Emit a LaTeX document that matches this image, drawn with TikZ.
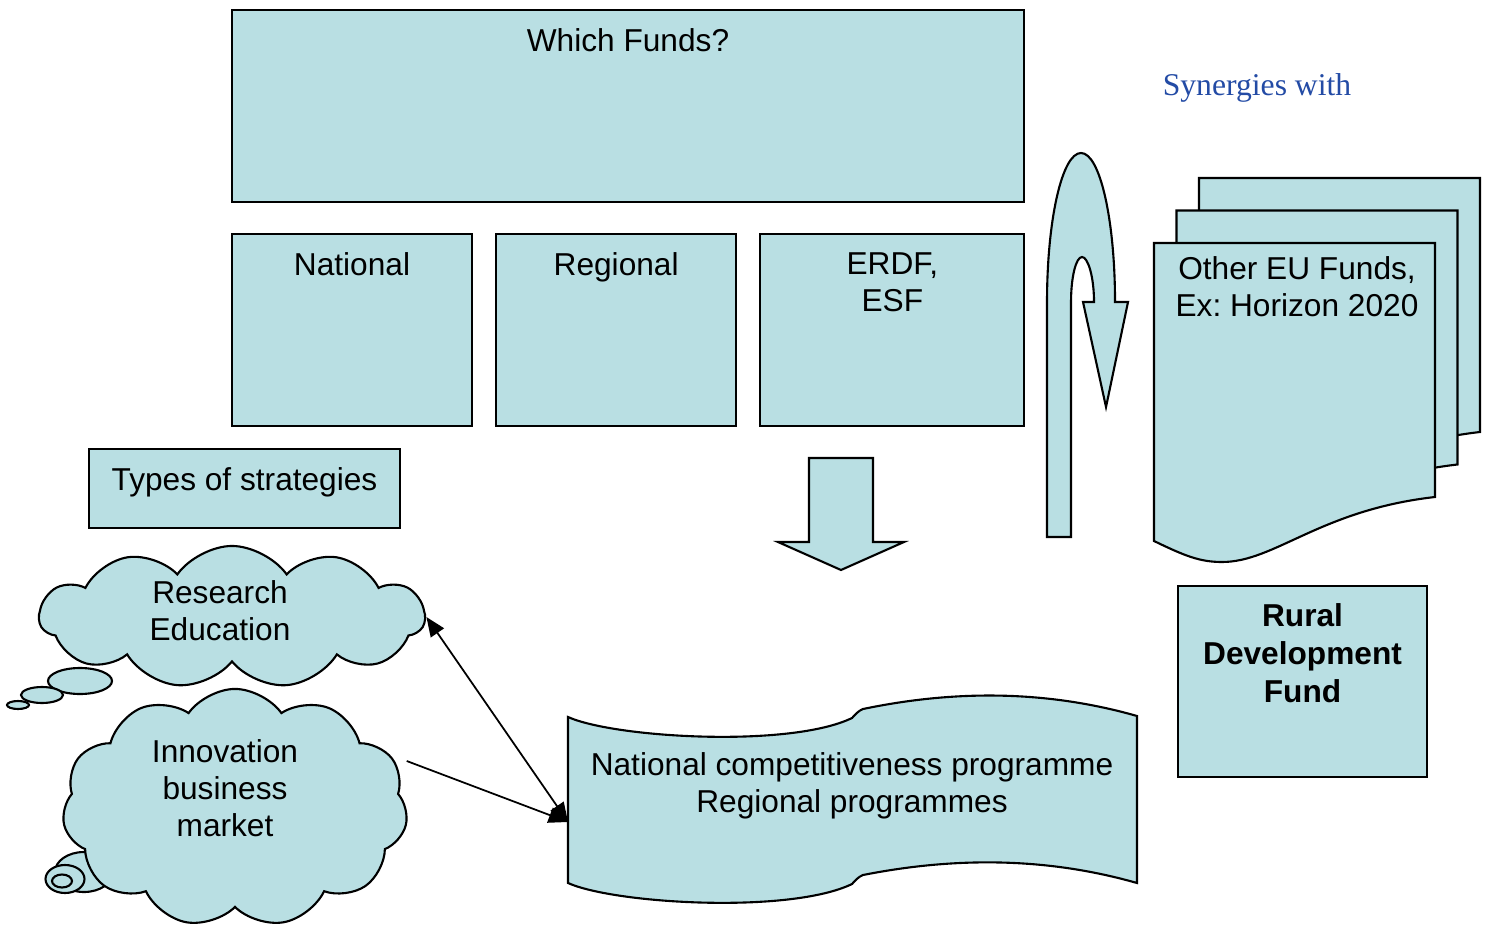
\documentclass[tikz,border=0pt]{standalone}
\usepackage{fontspec}
\setmainfont{Liberation Sans}
\newfontfamily\timesfont{Liberation Serif}
\usepackage{tikz}
\usepackage{xcolor}
\usetikzlibrary{shapes}
\usetikzlibrary{calc}
\usetikzlibrary{positioning, arrows.meta}

\definecolor{fundfill}{RGB}{185,223,227}
\definecolor{synblue}{RGB}{35,75,165}
\frenchspacing

\tikzset{
  fundbox/.style={draw, fill=fundfill, line width=0.6pt, inner sep=0pt, outer sep=0pt},
  boxtext/.style={anchor=north, inner sep=0pt, yshift=-1.8mm, align=center},
  thought/.style={cloud, draw, fill=fundfill, line width=0.6pt, cloud puffs=11, cloud puff arc=110, aspect=2.2, inner sep=0pt},
  bubble/.style={draw, fill=fundfill, line width=0.6pt},
  link/.style={line width=0.5pt, >={Triangle[length=5.5pt,width=4.5pt]}},
  fatarrow/.style={draw, fill=fundfill, line width=0.6pt},
}

\begin{document}
\begin{tikzpicture}[x=0.01cm, y=-0.01cm, font=\fontsize{9}{10.5}\selectfont]
\useasboundingbox (0,0) rectangle (1486,928);

% funds boxes
\node[fundbox, minimum width=7.92cm, minimum height=1.92cm, label={[boxtext]north:Which Funds?}] (which) at (628,106) {};
\node[fundbox, minimum width=2.40cm, minimum height=1.92cm, label={[boxtext]north:National}] (national) at (352,330) {};
\node[fundbox, minimum width=2.40cm, minimum height=1.92cm, right=0.24cm of national, label={[boxtext]north:Regional}] (regional) {};
\node[fundbox, minimum width=2.64cm, minimum height=1.92cm, right=0.24cm of regional, label={[boxtext]north:ERDF,\\ESF}] (erdf) {};
\node[fundbox, minimum width=3.11cm, minimum height=0.79cm, label={[boxtext]north:Types of strategies}] (types) at (244.5,488.5) {};

% block arrows
\draw[fatarrow] (809,458) -- (873,458) -- (873,542) -- (904,542) -- (841,570) -- (778,542) -- (809,542) -- cycle;
\draw[fatarrow] (1047,537) -- (1047,302) .. controls (1047,220) and (1062,153) .. (1081,153)
  .. controls (1100,153) and (1115,220) .. (1115,302) -- (1128,302) -- (1106,407) -- (1083,302) -- (1094,302)
  .. controls (1094,277) and (1088,257) .. (1082,257) .. controls (1076,257) and (1071,277) .. (1071,302)
  -- (1071,537) -- cycle;

% other funds, stacked sheets
\foreach \s in {2,1,0} {
  \draw[fundbox, shift={(22.5*\s,-32.5*\s)}] (1154,243) -- (1435,243) -- (1435,497)
    .. controls (1320,510) and (1275,562) .. (1222,562) .. controls (1200,562) and (1185,556) .. (1154,541) -- cycle;
}
\node[align=center, inner sep=0pt] (other) at (1297,287) {Other EU Funds,\\Ex: Horizon 2020};
\node[font=\timesfont\fontsize{9}{10.5}\selectfont, text=synblue, inner sep=0pt] (syn) at (1257,88) {Synergies with};

\node[fundbox, minimum width=2.49cm, minimum height=1.91cm, label={[boxtext, yshift=0.1mm, font=\fontsize{9}{10.8}\selectfont\bfseries]north:Rural\\Development\\Fund}] (rural) at (1302.5,681.5) {};

% programmes banner
\draw[fundbox] (568,717) .. controls (615,738) and (790,748) .. (852,718) .. controls (856,714) and (858,711) .. (863,709)
  .. controls (954,690) and (1046,690) .. (1137,716) -- (1137,883)
  .. controls (1046,857) and (954,857) .. (863,875) .. controls (858,877) and (856,880) .. (852,884)
  .. controls (790,914) and (615,904) .. (568,883) -- cycle;
\node[align=center, inner sep=0pt] (prog) at (852,786) {National competitiveness programme\\Regional programmes};
\coordinate (progin) at (568,822);

% strategy clouds
\draw[bubble] (80,681) ellipse (32 and 13);
\draw[bubble] (42,695) ellipse (21 and 8);
\draw[bubble] (18,705) ellipse (11 and 4);
\node[thought, minimum width=3.85cm, minimum height=1.42cm] (research) at (232,617) {};
\node[align=center, inner sep=0pt] (researchtxt) at (220,611) {Research\\Education};

\draw[bubble] (84,872) ellipse (29 and 20);
\node[thought, minimum width=3.45cm, minimum height=2.38cm] (innov) at (235,808) {};
\draw[bubble] (65,879) ellipse (19.5 and 14);
\draw[bubble] (62,881) ellipse (10 and 6.5);
\node[align=center, inner sep=0pt] (innovtxt) at (225,788) {Innovation\\business\\market};

\draw[link, <->] (research.east) -- (progin);
\draw[link, ->] ($(innov.east)+(0,-47)$) -- (progin);
\end{tikzpicture}
\end{document}
